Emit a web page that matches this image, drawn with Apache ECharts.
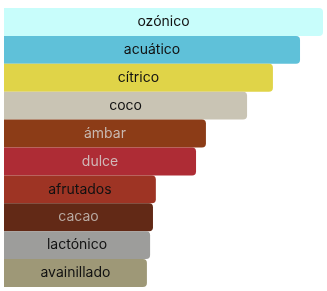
<!DOCTYPE html>
<html>
<head>
<meta charset="utf-8">
<script src="https://cdn.jsdelivr.net/npm/echarts@6/dist/echarts.min.js"></script>
<style>
  html, body { margin: 0; padding: 0; background: #fff; }
  #chart { width: 327px; height: 291px; }
</style>
</head>
<body>
<div id="chart"></div>
<script>
const categories = ['ozónico', 'acuático', 'cítrico', 'coco', 'ámbar', 'dulce', 'afrutados', 'cacao', 'lactónico', 'avainillado'];
const values = [100, 92.8, 84.3, 76.2, 63.3, 60.2, 47.6, 46.7, 45.8, 44.8];
const colors = ['#c8fdfb', '#5fc1d9', '#e0d448', '#c9c4b4', '#8c3c17', '#ae2c35', '#9e3424', '#622916', '#9d9d9b', '#9e9877'];
const labelColors = ['#111', '#111', '#111', '#111', '#c8b8b0', '#d0b8b8', '#111', '#b8a8a0', '#111', '#111'];

const chart = echarts.init(document.getElementById('chart'));
chart.setOption({
  animation: false,
  grid: { left: 4, right: 4, top: 8, bottom: 4 },
  xAxis: { type: 'value', min: 0, max: 100, show: false },
  yAxis: { type: 'category', data: categories, inverse: true, show: false },
  series: [{
    type: 'bar',
    barCategoryGap: 0,
    data: values.map((v, i) => ({
      value: v,
      itemStyle: { color: colors[i] },
      label: { color: labelColors[i] }
    })),
    itemStyle: { borderRadius: [0, 4, 4, 0] },
    label: {
      show: true,
      position: 'inside',
      fontFamily: 'Inter',
      fontSize: 14,
      formatter: p => p.name
    }
  }]
});
</script>
</body>
</html>
